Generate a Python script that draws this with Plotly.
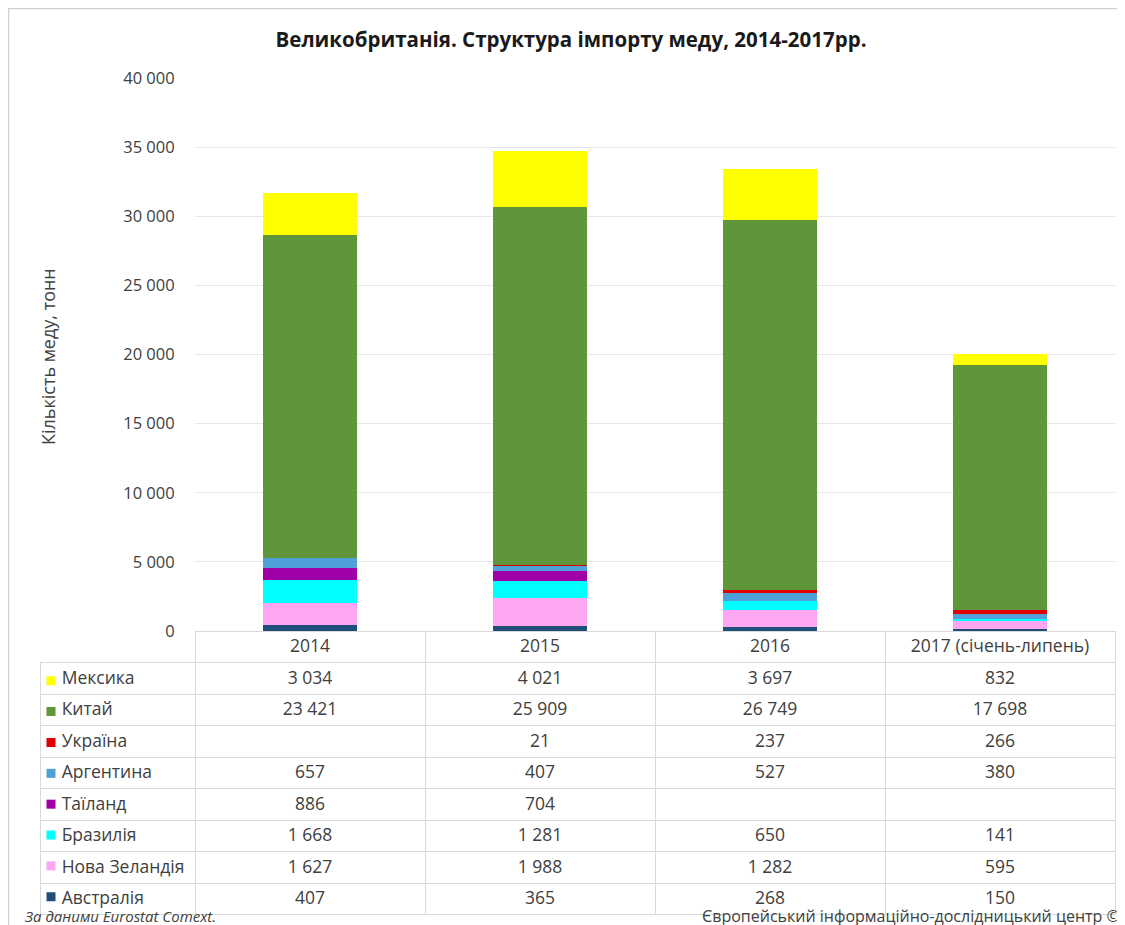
import plotly.graph_objects as go

years = ["2014", "2015", "2016", "2017 (січень-липень)"]
countries = ["Австралія", "Нова Зеландія", "Бразилія", "Таїланд", "Аргентина", "Україна", "Китай", "Мексика"]
australia = [407, 365, 268, 150]
new_zealand = [1627, 1988, 1282, 595]
brazil = [1668, 1281, 650, 141]
thailand = [886, 704, None, None]
argentina = [657, 407, 527, 380]
ukraine = [None, 21, 237, 266]
china = [23421, 25909, 26749, 17698]
mexico = [3034, 4021, 3697, 832]
series = [australia, new_zealand, brazil, thailand, argentina, ukraine, china, mexico]
colors = ["#1F4E79", "#FFA6F2", "#00FFFF", "#A000A8", "#4FA0D8", "#E00000", "#5E9639", "#FFFF00"]

W, H = 1125, 925
OFF = 8  # page body margin
def px(x): return (x - OFF) / W
def py(y): return 1 - (y - OFF) / H

FONT = "Open Sans, Noto Sans, sans-serif"
TXT = "#404040"

fig = go.Figure()
for name, vals, col in zip(countries, series, colors):
    fig.add_trace(go.Bar(
        x=years, y=[v if v is not None else 0 for v in vals], name=name,
        marker=dict(color=col, line=dict(width=0)), width=0.41,
        showlegend=False, xaxis="x", yaxis="y"))

def fmt(v):
    if v is None:
        return ""
    return f"{v:,}".replace(",", " ")

rows_order = list(range(len(countries)))[::-1]
label_col = ["\u00a0\u00a0\u00a0" + countries[i].replace(" ", "\u00a0") for i in rows_order]
value_cols = [[fmt(series[i][j]) for i in rows_order] for j in range(len(years))]

ROW_H = 31.5
GRID = "#D9D9D9"
fig.add_trace(go.Table(
    domain=dict(x=[px(40), px(1115)], y=[py(915), py(631)]),
    columnwidth=[155, 230, 230, 230, 230],
    header=dict(values=[""] + years, height=ROW_H,
                align=["left", "center", "center", "center", "center"],
                fill=dict(color=["rgba(0,0,0,0)", "white", "white", "white", "white"]),
                line=dict(color=["rgba(0,0,0,0)", GRID, GRID, GRID, GRID], width=1),
                font=dict(family=FONT, size=17.5, color=TXT)),
    cells=dict(values=[label_col] + value_cols, height=ROW_H,
               align=["left", "center", "center", "center", "center"],
               fill=dict(color=["rgba(0,0,0,0)", "white", "white", "white", "white"]),
               line=dict(color=GRID, width=1),
               font=dict(family=FONT, size=17.5, color=TXT))
))

# legend keys in the label column, drawn on an overlay axis
fig.add_trace(go.Scatter(
    x=[0] * len(rows_order), y=[countries[i] for i in rows_order],
    mode="markers", marker=dict(symbol="square", size=9, color=[colors[i] for i in rows_order]),
    xaxis="x2", yaxis="y2", showlegend=False, hoverinfo="skip"))

fig.update_layout(
    width=W, height=H,
    margin=dict(l=0, r=0, t=0, b=0, autoexpand=False),
    paper_bgcolor="white", plot_bgcolor="rgba(0,0,0,0)",
    barmode="stack",
    font=dict(family=FONT, color=TXT),
    title=dict(text="<b>Великобританія. Структура імпорту меду, 2014-2017рр.</b>",
               x=px(571), xanchor="center", y=py(40), yanchor="middle", automargin=False,
               font=dict(size=20.5, color="#1a1a1a")),
    xaxis=dict(domain=[px(195), px(1115)], showticklabels=False, showgrid=False,
               zeroline=False, showline=False, ticks="", automargin=False),
    yaxis=dict(domain=[py(631), py(78)], range=[0, 40000],
               tickvals=[0, 5000, 10000, 15000, 20000, 25000, 30000, 35000, 40000],
               ticktext=["0", "5 000", "10 000", "15 000", "20 000", "25 000", "30 000", "35 000", "40 000"],
               showgrid=True, gridcolor="#E6E6E6", gridwidth=1, zeroline=False, automargin=False,
               ticks="outside", ticklen=16, tickcolor="rgba(0,0,0,0)",
               tickfont=dict(size=16.5, color=TXT)),
    xaxis2=dict(domain=[px(40), px(195)], range=[-11, 144], visible=False, fixedrange=True),
    yaxis2=dict(domain=[py(915), py(631 + ROW_H)], type="category",
                categoryarray=[countries[i] for i in rows_order][::-1],
                visible=False, fixedrange=True),
    annotations=[
        dict(text="Кількість меду, тонн", textangle=-90, x=px(48), y=py(357),
             xref="paper", yref="paper", showarrow=False, font=dict(size=18, color=TXT),
             xanchor="center", yanchor="middle"),
        dict(text="<i>За даними Eurostat Comext.</i>", x=px(22), y=py(916), xref="paper", yref="paper",
             showarrow=False, xanchor="left", yanchor="middle", font=dict(size=15, color=TXT)),
        dict(text="Європейський інформаційно-дослідницький центр ©", x=px(1122), y=py(916),
             xref="paper", yref="paper", showarrow=False, xanchor="right", yanchor="middle",
             font=dict(size=16, color=TXT)),
    ],
    shapes=[dict(type="rect", xref="paper", yref="paper", x0=px(8.5), x1=px(1140), y0=py(940), y1=py(8.5),
                 line=dict(color="#D0D0D0", width=1.5), fillcolor="rgba(0,0,0,0)", layer="below")],
)

fig.write_html("out.html")
